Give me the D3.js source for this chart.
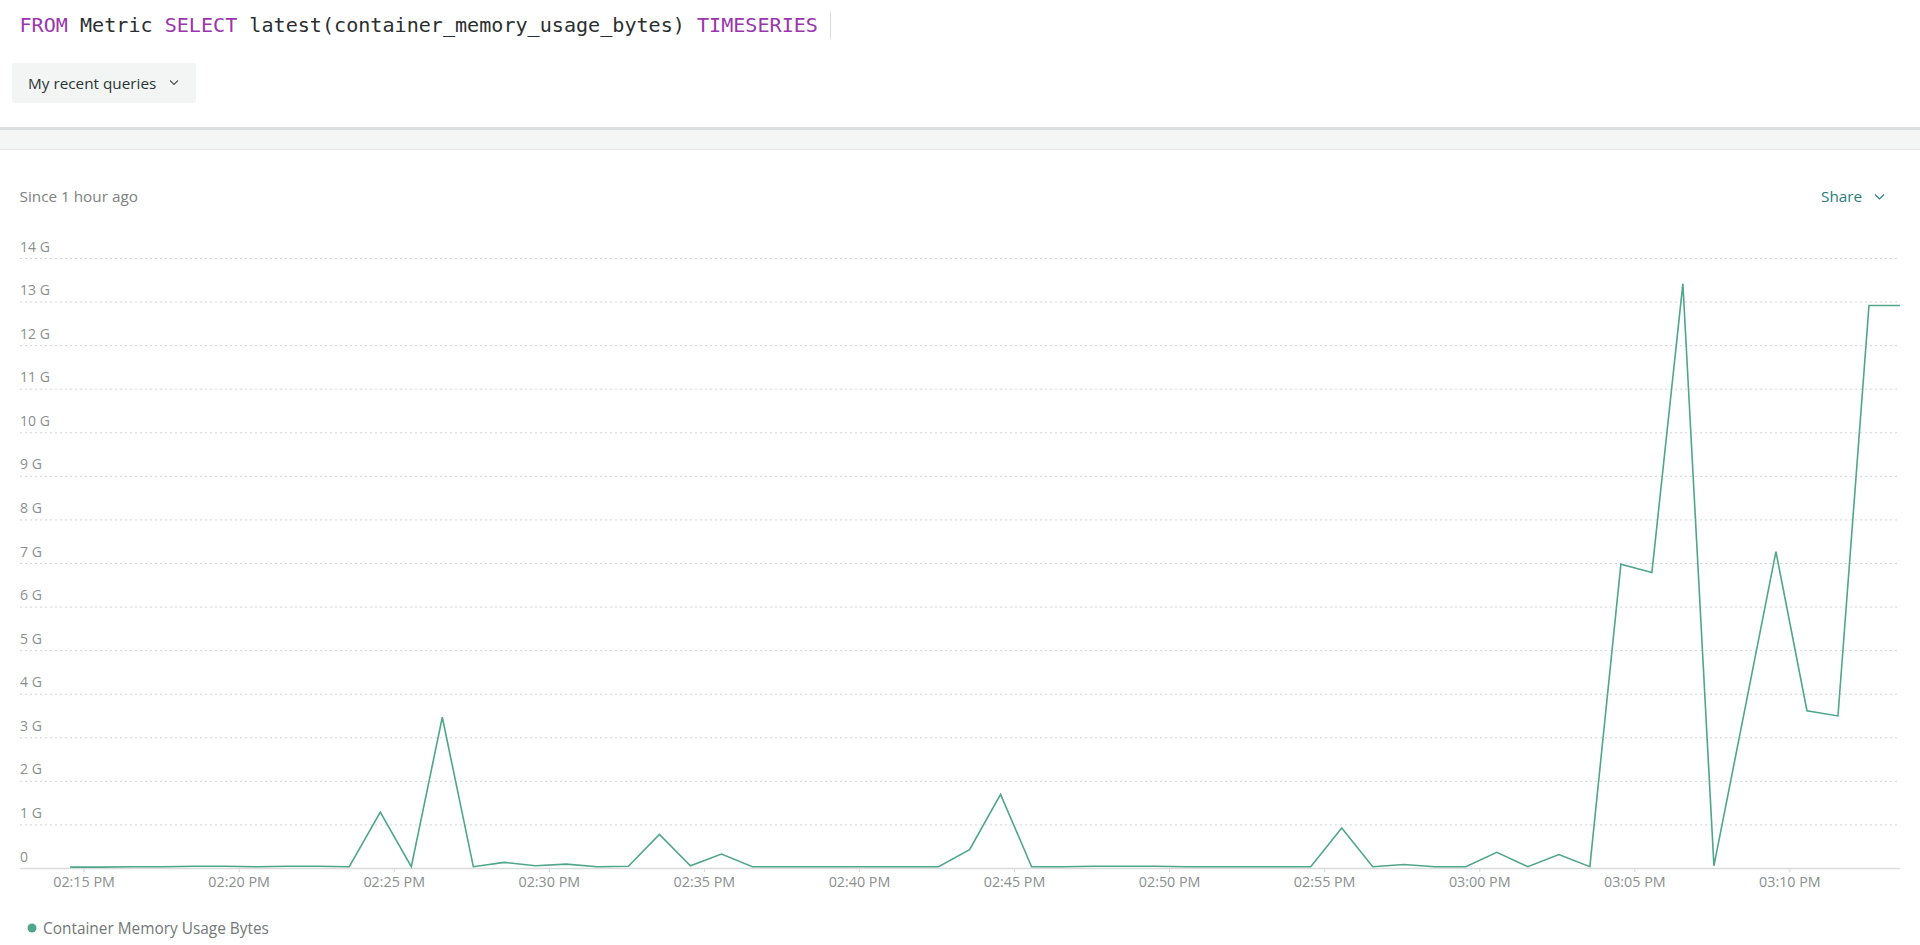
<!DOCTYPE html>
<html>
<head>
<meta charset="utf-8">
<script src="https://cdn.jsdelivr.net/npm/d3@7"></script>
<style>
  html, body { margin: 0; padding: 0; background: #ffffff; }
  svg { display: block; }
  text { font-family: "Open Sans", "Noto Sans", sans-serif; }
</style>
</head>
<body>
<svg id="chart" width="1920" height="945"></svg>
<script>
// ---------- data ----------
const seriesName = "Container Memory Usage Bytes";
const times = [
  "14:14:34","14:15:34","14:16:34","14:17:34","14:18:34","14:19:34","14:20:34","14:21:34","14:22:34","14:23:34",
  "14:24:34","14:25:34","14:26:34","14:27:34","14:28:34","14:29:34","14:30:34","14:31:34","14:32:34","14:33:34",
  "14:34:34","14:35:34","14:36:34","14:37:34","14:38:34","14:39:34","14:40:34","14:41:34","14:42:34","14:43:34",
  "14:44:34","14:45:34","14:46:34","14:47:34","14:48:34","14:49:34","14:50:34","14:51:34","14:52:34","14:53:34",
  "14:54:34","14:55:34","14:56:34","14:57:34","14:58:34","14:59:34","15:00:34","15:01:34","15:02:34","15:03:34",
  "15:04:34","15:05:34","15:06:34","15:07:34","15:08:34","15:09:34","15:10:34","15:11:34","15:12:34","15:13:34"
];
// values in GB
const values = [
  0.02,0.02,0.03,0.03,0.04,0.04,0.03,0.04,0.04,0.03,
  1.28,0.03,3.46,0.03,0.13,0.05,0.09,0.03,0.04,0.77,
  0.05,0.32,0.03,0.03,0.03,0.03,0.03,0.03,0.03,0.42,
  1.69,0.03,0.03,0.04,0.04,0.04,0.03,0.03,0.03,0.03,
  0.03,0.92,0.03,0.08,0.03,0.03,0.36,0.03,0.31,0.03,
  6.97,6.78,13.41,0.05,3.65,7.26,3.61,3.49,12.91,12.91
];
const yTicks = [0,1,2,3,4,5,6,7,8,9,10,11,12,13,14];
const yDomain = [0, 14];
const domainStart = "14:12:57";

(function () {
// ---------- setup ----------
const parse = d3.timeParse("%H:%M:%S");
const data = times.map((t, i) => ({ t: parse(t), v: values[i] }));

const svg = d3.select("#chart");
const lineColor = "#4fa68a";
const plotLeft = 20, plotRight = 1900, plotTop = 258, plotBottom = 868;

// ---------- header ----------
const q = svg.append("text")
  .attr("x", 19.5).attr("y", 31.5)
  .attr("xml:space", "preserve")
  .style("font-family", "'DejaVu Sans Mono', 'Liberation Mono', monospace")
  .style("font-size", "20.1px");
[["FROM", "#9a35ad"], [" Metric ", "#2b2f31"], ["SELECT", "#9a35ad"],
 [" latest(container_memory_usage_bytes) ", "#2b2f31"], ["TIMESERIES", "#9a35ad"]]
  .forEach(([s, c]) => q.append("tspan").attr("fill", c).style("white-space", "pre").text(s));
svg.append("line").attr("x1", 830.5).attr("x2", 830.5).attr("y1", 12).attr("y2", 39)
  .attr("stroke", "#d8dbdb").attr("stroke-width", 1);

svg.append("rect").attr("x", 12).attr("y", 63).attr("width", 184).attr("height", 40)
  .attr("rx", 3).attr("fill", "#f3f4f4");
svg.append("text").attr("x", 28).attr("y", 88.5).attr("fill", "#2a3434")
  .style("font-size", "15.3px").text("My recent queries");
svg.append("path").attr("d", "M170,80.5 L174,84.5 L178,80.5").attr("fill", "none")
  .attr("stroke", "#4a5252").attr("stroke-width", 1.1);

// separator / band
svg.append("rect").attr("x", 0).attr("y", 127).attr("width", 1920).attr("height", 3).attr("fill", "#dcdfdf");
svg.append("rect").attr("x", 0).attr("y", 130).attr("width", 1920).attr("height", 19).attr("fill", "#f4f5f5");
svg.append("rect").attr("x", 0).attr("y", 149).attr("width", 1920).attr("height", 1).attr("fill", "#e4e6e6");

svg.append("text").attr("x", 19.5).attr("y", 201.5).attr("fill", "#7d8282")
  .style("font-size", "15.3px").text("Since 1 hour ago");
svg.append("text").attr("x", 1821).attr("y", 202).attr("fill", "#2a7d77")
  .style("font-size", "15.3px").text("Share");
svg.append("path").attr("d", "M1875,194.5 L1879.5,199 L1884,194.5").attr("fill", "none")
  .attr("stroke", "#2a7d77").attr("stroke-width", 1.1);

// ---------- scales ----------
const x = d3.scaleTime()
  .domain([parse(domainStart), data[data.length - 1].t])
  .range([plotLeft, plotRight]);
const y = d3.scaleLinear().domain(yDomain).range([plotBottom, plotTop]);

// ---------- y grid & labels ----------
const yAxis = svg.append("g")
  .attr("transform", `translate(${plotLeft},0)`)
  .call(d3.axisRight(y).tickValues(yTicks).tickSize(plotRight - plotLeft)
    .tickFormat(d => d === 0 ? "0" : d + " G"));
yAxis.select(".domain").remove();
yAxis.selectAll(".tick line")
  .attr("stroke", d => d === 0 ? "#d9dcdc" : "#d3d6d6")
  .attr("stroke-width", d => d === 0 ? 1.5 : 1)
  .attr("stroke-dasharray", d => d === 0 ? null : "2,3");
yAxis.selectAll(".tick text")
  .attr("x", 0).attr("dy", "-7px")
  .attr("text-anchor", "start")
  .attr("fill", "#8a8f8f")
  .style("font-family", "'Open Sans', sans-serif")
  .style("font-size", "14px");

// ---------- x axis ----------
const xAxis = svg.append("g")
  .attr("transform", `translate(0,${plotBottom})`)
  .call(d3.axisBottom(x).ticks(d3.timeMinute.every(5))
    .tickFormat(d3.timeFormat("%I:%M %p")).tickSize(4).tickPadding(5));
xAxis.select(".domain").remove();
xAxis.selectAll(".tick line").attr("stroke", "#d3d6d6");
xAxis.selectAll(".tick text")
  .attr("fill", "#8a8f8f")
  .style("font-family", "'Open Sans', sans-serif")
  .style("font-size", "14.3px");

// ---------- line ----------
const line = d3.line().x(d => x(d.t)).y(d => y(d.v));
svg.append("path").datum(data)
  .attr("fill", "none")
  .attr("stroke", lineColor)
  .attr("stroke-width", 1.6)
  .attr("stroke-linejoin", "miter")
  .attr("d", line);

// ---------- legend ----------
const legend = svg.append("g").attr("transform", "translate(32,928)");
legend.append("circle").attr("r", 4.5).attr("fill", lineColor);
legend.append("text").attr("x", 11).attr("y", 5.5).attr("fill", "#737878")
  .style("font-size", "15.4px").text(seriesName);
})();
</script>
</body>
</html>
